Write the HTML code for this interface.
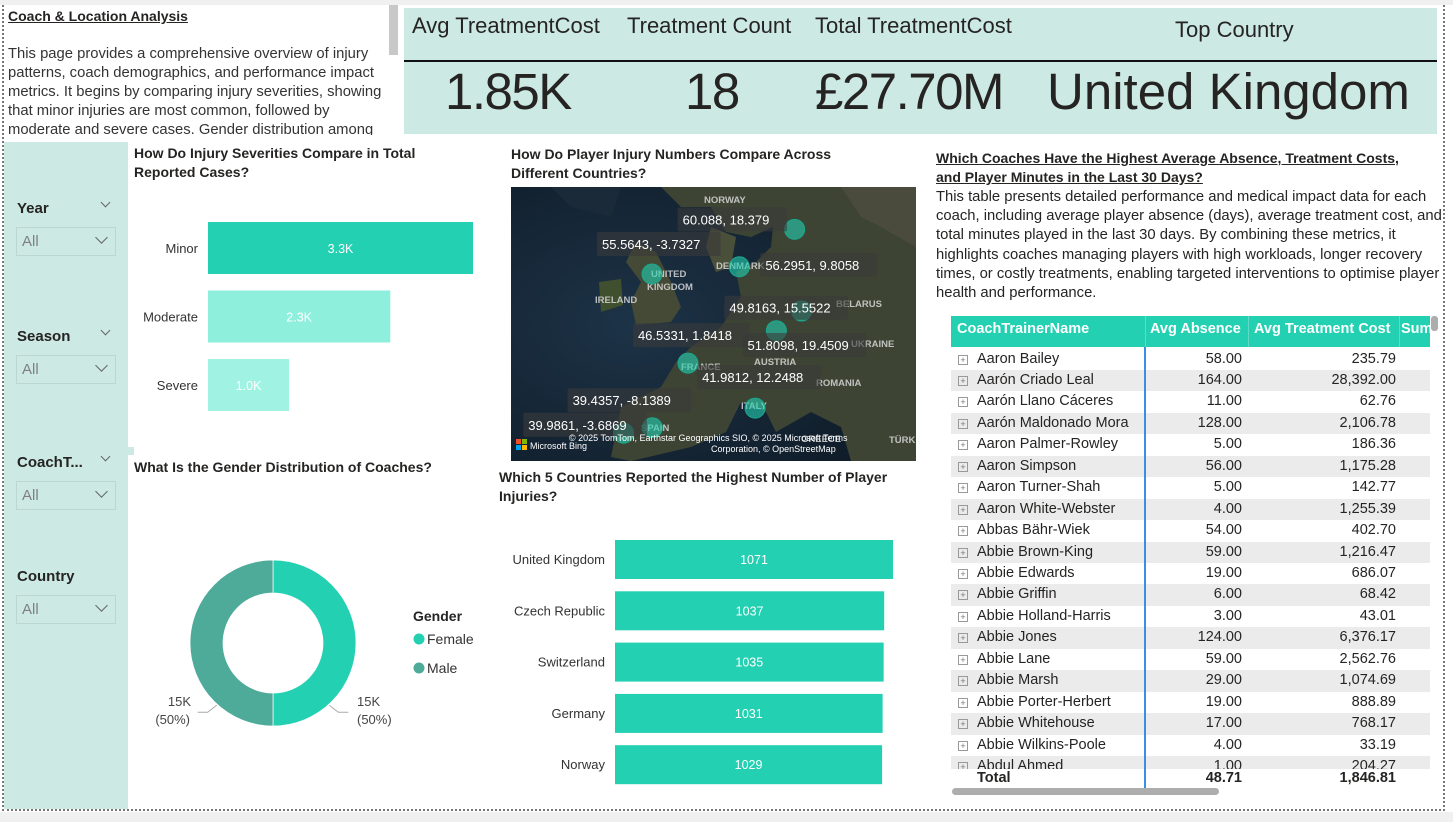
<!DOCTYPE html>
<html><head><meta charset="utf-8">
<style>
*{box-sizing:border-box;margin:0;padding:0}
body{width:1453px;height:822px;overflow:hidden;background:#fff;font-family:"Liberation Sans","DejaVu Sans",sans-serif;color:#252423;position:relative}
.abs{position:absolute}
.t{position:absolute;white-space:nowrap}
.h{font-weight:bold;font-size:14px;line-height:19px;color:#252423}
.slab{position:absolute;left:17px;font-weight:bold;font-size:15px;color:#252423}
.sbox{position:absolute;left:16px;width:100px;height:29px;border:1px solid #bcd6d0;color:#808080;font-size:15px;padding:5px 0 0 5px}
.chev{position:absolute;width:9px;height:9px;border-right:1.5px solid #666;border-bottom:1.5px solid #666;transform:rotate(45deg)}
.row{position:absolute;left:951px;width:479px;height:21.5px;font-size:14.5px;line-height:21.5px}
.row .n{position:absolute;left:26px}
.row .pl{position:absolute;left:7px;top:6px;width:10px;height:10px;border:1px solid #999;font-size:9px;line-height:8px;text-align:center;color:#777}
.row .a{position:absolute;right:188px}
.row .c{position:absolute;right:34px}
.kl{position:absolute;white-space:nowrap;font-size:22px}
.kv{position:absolute;white-space:nowrap;font-size:51px;letter-spacing:-1.5px}
</style></head><body>
<div class="abs" style="left:0;top:0;width:1453px;height:5px;background:#f0f0f0"></div>
<div class="abs" style="left:2px;top:5px;width:0;height:806px;border-left:2px dotted #777"></div>
<div class="abs" style="left:1443px;top:5px;width:0;height:806px;border-left:2px dotted #777"></div>
<div class="abs" style="left:2px;top:809px;width:1443px;height:0;border-top:2px dotted #777"></div>
<div class="abs" style="left:0;top:812px;width:1453px;height:10px;background:#f0f0f0"></div>

<div class="t" style="left:8px;top:8px;font-weight:bold;font-size:14px;text-decoration:underline">Coach &amp; Location Analysis</div>
<div class="abs" style="left:8px;top:45px;width:378px;height:90px;overflow:hidden;font-size:14.8px;line-height:19px;color:#333">This page provides a comprehensive overview of injury patterns, coach demographics, and performance impact metrics. It begins by comparing injury severities, showing that minor injuries are most common, followed by moderate and severe cases. Gender distribution among coaches is examined</div>
<div class="abs" style="left:389px;top:5px;width:9px;height:50px;background:#c8c8c8"></div>

<div class="abs" style="left:404px;top:8px;width:1033px;height:126px;background:#cce9e3"></div>
<div class="abs" style="left:404px;top:60px;width:1033px;height:2px;background:#111"></div>
<div class="kl" style="left:412px;top:13px">Avg TreatmentCost</div>
<div class="kl" style="left:627px;top:13px">Treatment Count</div>
<div class="kl" style="left:815px;top:13px">Total TreatmentCost</div>
<div class="kl" style="left:1175px;top:17px">Top Country</div>
<div class="kv" style="left:445px;top:62px">1.85K</div>
<div class="kv" style="left:685px;top:62px">18</div>
<div class="kv" style="left:815px;top:62px">£27.70M</div>
<div class="kv" style="left:1047px;top:62px;letter-spacing:0">United Kingdom</div>

<div class="abs" style="left:4px;top:142px;width:124px;height:667px;background:#cce9e3"></div>
<div class="abs" style="left:128px;top:447px;width:6px;height:8px;background:#cce9e3"></div>
<div class="slab" style="top:200px">Year</div>
<div class="chev" style="left:102px;top:199px;width:7px;height:7px"></div>
<div class="sbox" style="top:227px">All<div class="chev" style="left:80px;top:5px"></div></div>
<div class="slab" style="top:328px">Season</div>
<div class="chev" style="left:102px;top:327px;width:7px;height:7px"></div>
<div class="sbox" style="top:355px">All<div class="chev" style="left:80px;top:5px"></div></div>
<div class="slab" style="top:454px">CoachT...</div>
<div class="chev" style="left:102px;top:453px;width:7px;height:7px"></div>
<div class="sbox" style="top:481px">All<div class="chev" style="left:80px;top:5px"></div></div>
<div class="slab" style="top:568px">Country</div>
<div class="sbox" style="top:595px">All<div class="chev" style="left:80px;top:5px"></div></div>

<div class="t h" style="left:134px;top:144px">How Do Injury Severities Compare in Total<br>Reported Cases?</div>
<svg class="abs" id="sev" style="left:130px;top:200px" width="360" height="230"></svg>

<div class="t h" style="left:134px;top:458px">What Is the Gender Distribution of Coaches?</div>
<svg class="abs" id="donut" style="left:130px;top:540px" width="360" height="210"></svg>

<div class="t h" style="left:511px;top:145px">How Do Player Injury Numbers Compare Across<br>Different Countries?</div>
<svg class="abs" id="map" style="left:511px;top:187px" width="405" height="274"></svg>

<div class="t h" style="left:499px;top:468px">Which 5 Countries Reported the Highest Number of Player<br>Injuries?</div>
<svg class="abs" id="ctry" style="left:490px;top:530px" width="430" height="265"></svg>

<div class="t h" style="left:936px;top:149px;text-decoration:underline">Which Coaches Have the Highest Average Absence, Treatment Costs,<br>and Player Minutes in the Last 30 Days?</div>
<div class="abs" style="left:936px;top:188px;width:506px;font-size:14.8px;line-height:19.2px;color:#252423">This table presents detailed performance and medical impact data for each coach, including average player absence (days), average treatment cost, and total minutes played in the last 30 days. By combining these metrics, it highlights coaches managing players with high workloads, longer recovery times, or costly treatments, enabling targeted interventions to optimise player health and performance.</div>
<div class="abs" style="left:951px;top:316px;width:479px;height:31px;background:#23d0b2;color:#fff;font-weight:bold;font-size:14.5px;line-height:27px">
 <span class="abs" style="left:6px">CoachTrainerName</span>
 <span class="abs" style="left:199px">Avg Absence</span>
 <span class="abs" style="left:303px">Avg Treatment Cost</span>
 <span class="abs" style="left:450px;width:29px;overflow:hidden">Sum</span>
 <div class="abs" style="left:194px;top:0;width:1px;height:31px;background:#5fdcc6"></div>
 <div class="abs" style="left:297px;top:0;width:1px;height:31px;background:#5fdcc6"></div>
 <div class="abs" style="left:448px;top:0;width:1px;height:31px;background:#5fdcc6"></div>
</div>
<div class="abs" id="tbody" style="left:0;top:0;width:1453px;height:769px;overflow:hidden;clip-path:inset(347px 0 0 0)"></div>
<div class="abs" style="left:1144px;top:347px;width:1.5px;height:441px;background:#3a8ee6"></div>
<div class="abs" style="left:951px;top:768px;width:479px;height:20px;font-weight:bold;font-size:14.5px;line-height:20px">
 <span class="abs" style="left:26px">Total</span><span class="abs" style="right:188px">48.71</span><span class="abs" style="right:34px">1,846.81</span></div>
<div class="abs" style="left:952px;top:788px;width:267px;height:7px;border-radius:4px;background:#adadad"></div>
<div class="abs" style="left:1431px;top:316px;width:7px;height:15px;border-radius:3px;background:#adadad"></div>

<script>
const sevCats = ["Minor","Moderate","Severe"];
const sevVals = [3300,2270,1010];
const sevLabels = ["3.3K","2.3K","1.0K"];
const genCats = ["Female","Male"];
const genVals = [15000,15000];
const ctryCats = ["United Kingdom","Czech Republic","Switzerland","Germany","Norway"];
const ctryVals = [1071,1037,1035,1031,1029];
const mapLat = [60.088,55.5643,56.2951,49.8163,46.5331,51.8098,41.9812,39.4357,39.9861];
const mapLon = [18.379,-3.7327,9.8058,15.5522,1.8418,19.4509,12.2488,-8.1389,-3.6869];
const coachNames = ["Aaron Bailey","Aarón Criado Leal","Aarón Llano Cáceres","Aarón Maldonado Mora","Aaron Palmer-Rowley","Aaron Simpson","Aaron Turner-Shah","Aaron White-Webster","Abbas Bähr-Wiek","Abbie Brown-King","Abbie Edwards","Abbie Griffin","Abbie Holland-Harris","Abbie Jones","Abbie Lane","Abbie Marsh","Abbie Porter-Herbert","Abbie Whitehouse","Abbie Wilkins-Poole","Abdul Ahmed"];
const coachAbsence = [58,164,11,128,5,56,5,4,54,59,19,6,3,124,59,29,19,17,4,1];
const coachCost = [235.79,28392.00,62.76,2106.78,186.36,1175.28,142.77,1255.39,402.70,1216.47,686.07,68.42,43.01,6376.17,2562.76,1074.69,888.89,768.17,33.19,204.27];

const NS="http://www.w3.org/2000/svg";
function mk(parent,tag,attrs,text){const e=document.createElementNS(NS,tag);for(const k in attrs)e.setAttribute(k,attrs[k]);if(text!==undefined)e.textContent=text;parent.appendChild(e);return e;}

(function(){
 const svg=document.getElementById('sev');
 const x0=78, maxW=265, maxV=3300;
 const xs=v=>v/maxV*maxW;
 const cols=["#23d0b2","#8eefdc","#a0f3e3"];
 sevCats.forEach((c,i)=>{
  const y=22+i*68.5;
  const r=mk(svg,'rect',{x:x0,y:y,width:xs(sevVals[i]),height:52,fill:cols[i]});
  
  
  const l=mk(svg,'text',{x:x0-10,y:y+31,'text-anchor':'end','font-size':13,fill:'#333'},c);
  
  
  const v=mk(svg,'text',{x:x0+xs(sevVals[i])/2,y:y+31,'text-anchor':'middle','font-size':12.5,fill:'#fff'},sevLabels[i]);
  
  
 });
})();

(function(){
 const svg=document.getElementById('donut');
 const cx=143, cy=103, R=83, r=50;
 const cols=["#23d0b2","#4eab9a"];
 const tot=genVals.reduce((a,b)=>a+b,0);
 let a0=-Math.PI/2;
 genVals.forEach((v,i)=>{
  const a1=a0+v/tot*2*Math.PI;
  const large=(a1-a0)>Math.PI?1:0;
  const p=(ang,rad)=>[cx+rad*Math.cos(ang),cy+rad*Math.sin(ang)];
  const [x1,y1]=p(a0,R),[x2,y2]=p(a1,R),[x3,y3]=p(a1,r),[x4,y4]=p(a0,r);
  const d=`M${x1},${y1} A${R},${R} 0 ${large} 1 ${x2},${y2} L${x3},${y3} A${r},${r} 0 ${large} 0 ${x4},${y4} Z`;
  const s=mk(svg,'path',{d:d,fill:cols[i],stroke:'#fff','stroke-width':0.7});
  
  
  const side=Math.cos((a0+a1)/2)>0?1:-1;
  const ang=side>0?Math.PI/4+0.05:Math.PI*3/4-0.05;
  const ex=cx+(R+1)*Math.cos(ang), ey=cy+(R+1)*Math.sin(ang);
  mk(svg,'polyline',{points:`${ex},${ey} ${ex+side*9},${ey+7} ${ex+side*19},${ey+7}`,fill:'none',stroke:'#aaa','stroke-width':1});
  const pct=Math.round(v/tot*100);
  const lbl=mk(svg,'text',{'font-size':13,fill:'#444','text-anchor':side>0?'start':'end'});
  
  
  const tx=side>0?cx+84:cx-82;
  mk(lbl,'tspan',{x:tx,y:cy+63},Math.round(v/1000)+'K');
  mk(lbl,'tspan',{x:side>0?tx:tx-1,y:cy+81},'('+pct+'%)');
  a0=a1;
 });
 const lt=mk(svg,'text',{x:283,y:81,'font-size':14,'font-weight':'bold',fill:'#252423'},'Gender');
 
 
 genCats.forEach((g,i)=>{
  mk(svg,'circle',{cx:289,cy:99+i*29,r:5.5,fill:cols[i]});
  const t=mk(svg,'text',{x:297,y:104+i*29,'font-size':14,fill:'#333'},g);
  
  
 });
})();

(function(){
 const svg=document.getElementById('map');
 const defs=mk(svg,'defs',{});
 const g=mk(defs,'radialGradient',{id:'sea',cx:'0.3',cy:'0.5',r:'0.8'});
 mk(g,'stop',{offset:'0','stop-color':'#1d3347'});
 mk(g,'stop',{offset:'1','stop-color':'#0e1a26'});
 mk(svg,'rect',{x:0,y:0,width:405,height:274,fill:'url(#sea)'});
 const land='#3d4434';
 mk(svg,'path',{d:'M150,0 L405,0 L405,274 L340,274 L330,240 L300,225 L265,245 L255,225 L230,215 L215,245 L180,260 L120,274 L100,270 L110,220 L150,200 L165,175 L180,160 L210,140 L230,110 L225,85 L245,75 L260,60 L262,40 L240,50 L215,45 L200,20 L170,20 Z',fill:land});
 mk(svg,'path',{d:'M125,55 L145,65 L160,95 L170,120 L160,135 L125,138 L120,115 L130,95 L115,75 Z',fill:'#454a36'});
 mk(svg,'path',{d:'M88,95 L110,92 L112,118 L90,125 Z',fill:'#40502f'});
 mk(svg,'path',{d:'M200,40 L225,50 L220,80 L205,85 L195,60 Z',fill:'#4a4f3a'});
 mk(svg,'path',{d:'M330,0 L405,0 L405,60 L370,40 L350,30 Z',fill:'#4a4a3d'});
 mk(svg,'path',{d:'M40,0 L110,0 L100,30 L60,20 Z',fill:'#1a2a38'});
 const names=[["NORWAY",193,16],["DENMARK",205,82],["UNITED",140,90],["KINGDOM",136,103],["IRELAND",84,116],["FRANCE",170,183],["AUSTRIA",243,178],["ITALY",230,222],["SPAIN",130,244],["GREECE",290,255],["UKRAINE",340,160],["ROMANIA",305,199],["BELARUS",325,120],["TÜRKIYE",378,256]];
 names.forEach(n=>{mk(svg,'text',{x:n[1],y:n[2],'font-size':9.5,'font-weight':'bold',fill:'#d8d8d8',opacity:0.85},n[0]);});
 const lonX=lon=>652-511+(lon+3.7327)*6.45;
 const latY=lat=>274-187-(lat-55.5643)*9.87;
 const lblOff=[[-117,-10],[-55,-30],[21,-2],[-52,-23],[-55,-28],[-59,34],[-58,-31],[-56,-33],[-129,-3]];
 mapLat.forEach((lat,i)=>{
  const c=mk(svg,'circle',{cx:lonX(mapLon[i]),cy:latY(lat),r:10,fill:'#23d0b2','fill-opacity':0.6,stroke:'#1aa88f','stroke-width':1});
  
  
 });
 mapLat.forEach((lat,i)=>{
  const x=lonX(mapLon[i]), y=latY(lat);
  const txt=lat+', '+mapLon[i];
  const w=txt.length*7.1+10;
  const lx=x+lblOff[i][0], ly=y+lblOff[i][1];
  mk(svg,'rect',{x:lx,y:ly-12,width:w,height:24,fill:'#3a3a3a','fill-opacity':0.6,rx:2});
  const t=mk(svg,'text',{x:lx+5,y:ly+5,'font-size':13,fill:'#fff'},txt);
  
  
 });
 mk(svg,'rect',{x:5,y:252,width:5,height:5,fill:'#f25022'});mk(svg,'rect',{x:11,y:252,width:5,height:5,fill:'#7fba00'});
 mk(svg,'rect',{x:5,y:258,width:5,height:5,fill:'#00a4ef'});mk(svg,'rect',{x:11,y:258,width:5,height:5,fill:'#ffb900'});
 mk(svg,'text',{x:19,y:262,'font-size':9,fill:'#fff'},'Microsoft Bing');
 mk(svg,'text',{x:58,y:254,'font-size':9,fill:'#fff'},'© 2025 TomTom, Earthstar Geographics SIO, © 2025 Microsoft   Terms');
 mk(svg,'text',{x:200,y:265,'font-size':9,fill:'#fff'},'Corporation, © OpenStreetMap');
})();

(function(){
 const svg=document.getElementById('ctry');
 const x0=125, maxW=278, maxV=1071;
 const xs=v=>v/maxV*maxW;
 ctryCats.forEach((c,i)=>{
  const y=10+i*51.3;
  const r=mk(svg,'rect',{x:x0,y:y,width:xs(ctryVals[i]),height:39,fill:'#23d0b2'});
  
  
  const l=mk(svg,'text',{x:x0-10,y:y+24,'text-anchor':'end','font-size':13,fill:'#333'},c);
  
  
  const v=mk(svg,'text',{x:x0+xs(ctryVals[i])/2,y:y+24,'text-anchor':'middle','font-size':12.5,fill:'#fff'},ctryVals[i]);
  
  
 });
})();

(function(){
 const body=document.getElementById('tbody');
 const fmt=v=>v.toLocaleString('en-US',{minimumFractionDigits:2,maximumFractionDigits:2});
 coachNames.forEach((n,i)=>{
  const r=document.createElement('div');
  r.className='row';
  
  
  r.style.top=(348.5+i*21.45)+'px';
  if(i%2==1) r.style.background='#ebebeb';
  r.innerHTML='<span class="pl">+</span><span class="n">'+n+'</span><span class="a">'+fmt(coachAbsence[i])+'</span><span class="c">'+fmt(coachCost[i])+'</span>';
  body.appendChild(r);
 });
})();
</script>
</body></html>
